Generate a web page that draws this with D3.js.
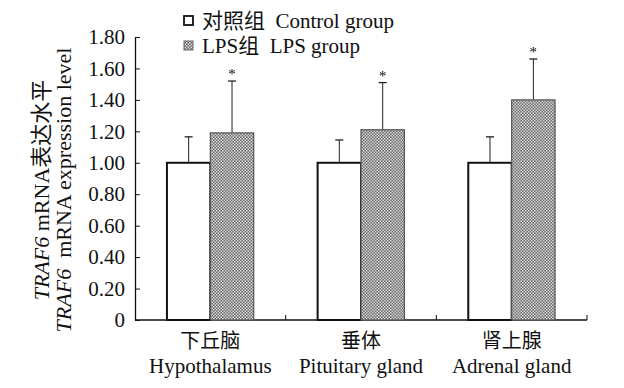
<!DOCTYPE html>
<html>
<head>
<meta charset="utf-8">
<script src="https://cdn.jsdelivr.net/npm/d3@7"></script>
<style>
  body { margin: 0; background: #fff; }
  svg text { font-family: "Liberation Serif", "Times New Roman", "Noto Sans CJK SC", serif; fill: #111; white-space: pre; }
</style>
</head>
<body>
<svg class="chart" width="624" height="388"></svg>
<script>
const width = 624;
const height = 388;

const categoriesZh = ["下丘脑", "垂体", "肾上腺"];
const categoriesEn = ["Hypothalamus", "Pituitary gland", "Adrenal gland"];
const controlMean = [1.00, 1.00, 1.00];
const controlSd = [0.165, 0.145, 0.165];
const lpsMean = [1.19, 1.21, 1.40];
const lpsSd = [0.33, 0.30, 0.26];
const yTicks = [0, 0.2, 0.4, 0.6, 0.8, 1.0, 1.2, 1.4, 1.6, 1.8];

const margin = { top: 37, right: 37, bottom: 68, left: 135 };

const svg = d3.select(".chart");

const defs = svg.append("defs");
const pat = defs.append("pattern")
  .attr("id", "dots")
  .attr("width", 3)
  .attr("height", 3)
  .attr("patternUnits", "userSpaceOnUse");
pat.append("rect").attr("width", 3).attr("height", 3).attr("fill", "#6e6e6e");
pat.append("rect").attr("x", 0).attr("y", 0).attr("width", 1.5).attr("height", 1.5).attr("fill", "#d4d4d4");
pat.append("rect").attr("x", 1.5).attr("y", 1.5).attr("width", 1.5).attr("height", 1.5).attr("fill", "#d4d4d4");

const x = d3.scaleBand()
  .domain(categoriesEn)
  .range([margin.left, width - margin.right]);

const y = d3.scaleLinear()
  .domain([0, 1.8])
  .range([height - margin.bottom, margin.top]);

const barW = x.bandwidth() * 0.288;

// y axis
const yAxis = svg.append("g")
  .attr("transform", `translate(${margin.left},0)`)
  .call(d3.axisLeft(y).tickValues(yTicks).tickSizeInner(-5).tickSizeOuter(0)
    .tickFormat(d => d === 0 ? "0" : d3.format(".2f")(d)));
yAxis.select(".domain").attr("stroke", "#111").attr("stroke-width", 1.3);
yAxis.selectAll(".tick line").attr("stroke", "#111");
yAxis.selectAll(".tick text")
  .attr("x", -10)
  .style("font-size", "21px")
  .style("font-family", "'Liberation Serif', serif");

// x axis
const base = y(0);
svg.append("line")
  .attr("x1", margin.left).attr("x2", width - margin.right)
  .attr("y1", base).attr("y2", base)
  .attr("stroke", "#111").attr("stroke-width", 1.3);
categoriesEn.forEach(c => {
  const xr = x(c) + x.bandwidth();
  svg.append("line")
    .attr("x1", xr).attr("x2", xr)
    .attr("y1", base).attr("y2", base - 5)
    .attr("stroke", "#111");
});

// bars
const groups = categoriesEn.map((c, i) => ({
  cat: c, zh: categoriesZh[i],
  c: controlMean[i], cs: controlSd[i],
  l: lpsMean[i], ls: lpsSd[i]
}));

const g = svg.append("g");
const stars = svg.append("g").style("filter", "grayscale(1)");

// error bars (drawn first so bars sit over them)
function errBar(cx, mean, sd) {
  g.append("line")
    .attr("x1", cx).attr("x2", cx)
    .attr("y1", y(mean)).attr("y2", y(mean + sd))
    .attr("stroke", "#222").attr("stroke-width", 1);
  g.append("line")
    .attr("x1", cx - 4).attr("x2", cx + 4)
    .attr("y1", y(mean + sd)).attr("y2", y(mean + sd))
    .attr("stroke", "#222").attr("stroke-width", 1.3);
}

groups.forEach(d => {
  const mid = x(d.cat) + x.bandwidth() / 2;
  errBar(mid - barW / 2, d.c, d.cs);
  errBar(mid + barW / 2, d.l, d.ls);

  g.append("rect")
    .attr("x", mid - barW)
    .attr("y", y(d.c))
    .attr("width", barW)
    .attr("height", base - y(d.c))
    .attr("fill", "#fff")
    .attr("stroke", "#111")
    .attr("stroke-width", 2);

  g.append("rect")
    .attr("x", mid)
    .attr("y", y(d.l))
    .attr("width", barW)
    .attr("height", base - y(d.l))
    .attr("fill", "url(#dots)")
    .attr("stroke", "#555")
    .attr("stroke-width", 1.2);

  stars.append("text")
    .attr("x", mid + barW / 2)
    .attr("y", y(d.l + d.ls) - 2)
    .attr("text-anchor", "middle")
    .style("font-size", "15px")
    .style("fill", "#000")
    .text("*");

  svg.append("text")
    .attr("x", mid)
    .attr("y", 348)
    .attr("text-anchor", "middle")
    .style("font-size", "20px")
    .text(d.zh);
  svg.append("text")
    .attr("x", mid)
    .attr("y", 373)
    .attr("text-anchor", "middle")
    .style("font-size", "21px")
    .text(d.cat);
});

// y axis title
const yt = svg.append("text")
  .attr("transform", "translate(0,190) rotate(-90)")
  .attr("text-anchor", "middle")
  .style("font-size", "22px");
const l1 = yt.append("tspan").attr("x", 0).attr("y", 49);
l1.append("tspan").style("font-style", "italic").text("TRAF6");
l1.append("tspan").text(" mRNA表达水平");
const l2 = yt.append("tspan").attr("x", 0).attr("y", 71);
l2.append("tspan").style("font-style", "italic").text("TRAF6");
l2.append("tspan").text("  mRNA expression level");

// legend
const legend = [
  { label: "对照组  Control group", fill: "#fff", stroke: "#111" },
  { label: "LPS组  LPS group", fill: "url(#dots)", stroke: "#666" }
];
legend.forEach((d, i) => {
  const ly = 21 + i * 25;
  svg.append("rect")
    .attr("x", 184).attr("y", ly - 5)
    .attr("width", 9).attr("height", 9)
    .attr("fill", d.fill)
    .attr("stroke", d.stroke)
    .attr("stroke-width", i === 0 ? 1.8 : 1);
  svg.append("text")
    .attr("x", 202).attr("y", ly + 7)
    .style("font-size", "21px")
    .text(d.label);
});
</script>
</body>
</html>
